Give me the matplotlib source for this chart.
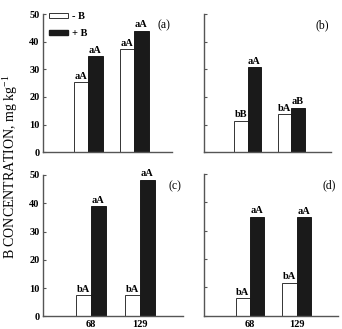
import matplotlib
matplotlib.use("Agg")
import matplotlib.pyplot as plt
from matplotlib.patches import Patch
import numpy as np

plt.rcParams['font.family'] = ['Liberation Serif', 'DejaVu Serif']
plt.rcParams['mathtext.fontset'] = 'custom'
plt.rcParams['mathtext.rm'] = 'Liberation Serif'
plt.rcParams['mathtext.it'] = 'Liberation Serif:italic'
plt.rcParams['mathtext.bf'] = 'Liberation Serif:bold'

categories = ['68', '129']
panels = ['(a)', '(b)', '(c)', '(d)']
minus_b = {'(a)': [25.3, 37.3], '(b)': [11.4, 13.8], '(c)': [7.5, 7.5], '(d)': [6.1, 11.7]}
plus_b = {'(a)': [34.7, 43.9], '(b)': [30.8, 16.1], '(c)': [38.9, 48.4], '(d)': [34.9, 34.8]}
minus_lbl = {'(a)': ['aA', 'aA'], '(b)': ['bB', 'bA'], '(c)': ['bA', 'bA'], '(d)': ['bA', 'bA']}
plus_lbl = {'(a)': ['aA', 'aA'], '(b)': ['aA', 'aB'], '(c)': ['aA', 'aA'], '(d)': ['aA', 'aA']}
yticks = [0, 10, 20, 30, 40, 50]

W, H = 342, 329
fig = plt.figure(figsize=(W / 100, H / 100), dpi=100)

# axes rects in pixels: left, right, y_bottom(top-origin), y_top(top-origin)
rects = {
    '(a)': (42.5, 172, 152.3, 14),
    '(b)': (204.3, 331, 152.3, 14),
    '(c)': (42.5, 183, 316.3, 175),
    '(d)': (204.3, 338, 315.7, 174),
}
# bar group centres (px) for data-x calibration
centres = {
    '(a)': (88, 134),
    '(b)': (247.7, 291.3),
    '(c)': (90.7, 140),
    '(d)': (250, 296.7),
}
bar_px = {'(a)': 14.5, '(b)': 13.5, '(c)': 14.8, '(d)': 14.3}

spine_col = '#555555'
for p in panels:
    l, r, yb, yt = rects[p]
    ax = fig.add_axes([l / W, 1 - yb / H, (r - l) / W, (yb - yt) / H])
    c0, c1 = centres[p]
    unit = c1 - c0
    x = np.arange(len(categories))
    ax.set_xlim((l - c0) / unit, (r - c0) / unit)
    ax.set_ylim(0, 50)
    w = bar_px[p] / unit
    ax.bar(x - w / 2, minus_b[p], w, color='white', edgecolor='#333333', linewidth=0.7)
    ax.bar(x + w / 2, plus_b[p], w, color='#1a1a1a', edgecolor='#1a1a1a', linewidth=0.7)
    for i in range(len(categories)):
        ax.text(x[i] - w / 2, minus_b[p][i] + 0.5, minus_lbl[p][i], ha='center', va='bottom',
                fontsize=7.5, fontweight='bold')
        ax.text(x[i] + w / 2, plus_b[p][i] + 0.5, plus_lbl[p][i], ha='center', va='bottom',
                fontsize=7.5, fontweight='bold')
    for s in ['top', 'right']:
        ax.spines[s].set_visible(False)
    for s in ['left', 'bottom']:
        ax.spines[s].set_color(spine_col)
        ax.spines[s].set_linewidth(1.0)
    ax.set_yticks(yticks)
    ax.tick_params(axis='y', direction='in', length=2.5, width=0.8, color=spine_col, pad=2)
    if p in ('(a)', '(c)'):
        ax.set_yticklabels([str(t) for t in yticks], fontsize=7.5, fontweight='bold')
    else:
        ax.set_yticklabels([])
    ax.set_xticks(x)
    ax.tick_params(axis='x', length=0, pad=3)
    if p in ('(c)', '(d)'):
        ax.set_xticklabels(categories, fontsize=7.5, fontweight='bold')
    else:
        ax.set_xticklabels([])
    ax.text(0.985, 0.965, p, transform=ax.transAxes, ha='right', va='top', fontsize=8.5)
    if p == '(a)':
        handles = [Patch(facecolor='white', edgecolor='#333333', linewidth=0.7),
                   Patch(facecolor='#1a1a1a', edgecolor='#1a1a1a')]
        ax.legend(handles, ['- B', '+ B'], loc='upper left', bbox_to_anchor=(-0.02, 1.08),
                  frameon=False, handlelength=1.75, handleheight=0.45, handletextpad=0.4,
                  labelspacing=0.75, prop={'size': 7.5, 'weight': 'bold'})

fig.text(11 / W, 1 - 167 / H, 'B CONCENTRATION, mg kg$^{-1}$', rotation=90,
         ha='center', va='center', fontsize=10)

fig.savefig('out.png', dpi=100)
